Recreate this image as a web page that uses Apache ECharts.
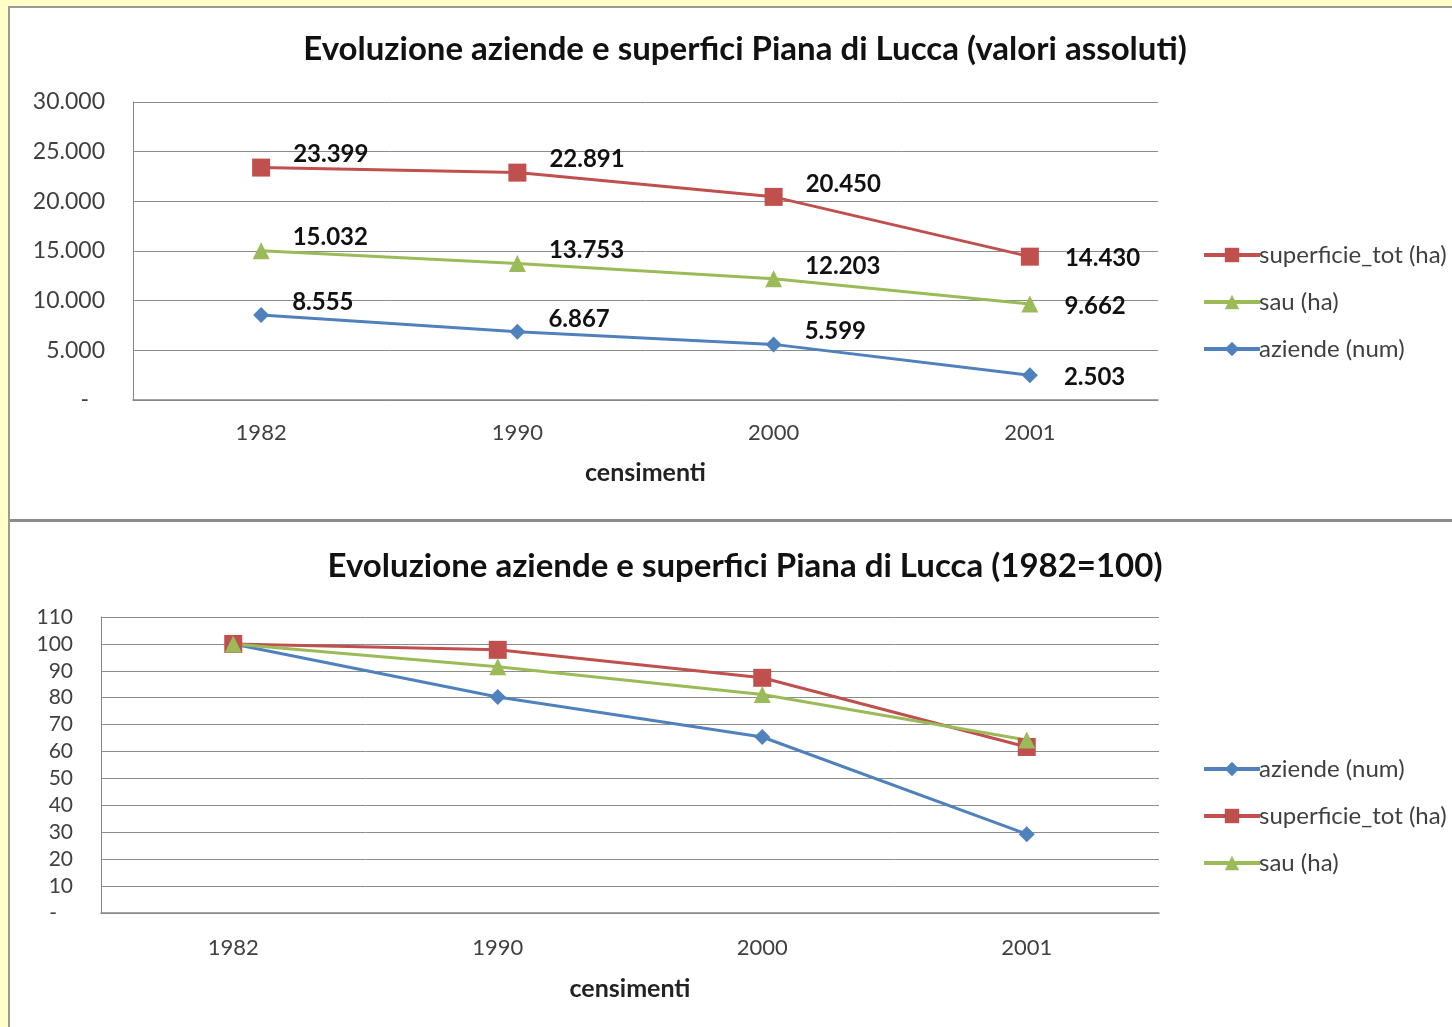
<!DOCTYPE html>
<html>
<head>
<meta charset="utf-8">
<script src="https://cdn.jsdelivr.net/npm/echarts@6/dist/echarts.min.js"></script>
<style>
html,body{margin:0;padding:0;background:#FFFFC8;}
#c{width:1452px;height:1027px;}
</style>
</head>
<body>
<div id="c"></div>
<script>
var categories = ['1982', '1990', '2000', '2001'];
var superficieAbs = [23399, 22891, 20450, 14430];
var sauAbs = [15032, 13753, 12203, 9662];
var aziendeAbs = [8555, 6867, 5599, 2503];
var aziendeIdx = [100, 80.3, 65.4, 29.3];
var superficieIdx = [100, 97.8, 87.4, 61.7];
var sauIdx = [100, 91.5, 81.2, 64.3];
var yTicksAbs = [0, 5000, 10000, 15000, 20000, 25000, 30000];
var yTicksIdx = [0, 10, 20, 30, 40, 50, 60, 70, 80, 90, 100, 110];

var RED = '#C0504D', GREEN = '#9BBB59', BLUE = '#4F81BD';
var FONT = 'Lato';
var TXT = '#404040';

function fmtIt(v) {
  var s = String(Math.round(v));
  return s.replace(/\B(?=(\d{3})+(?!\d))/g, '.');
}

function absData(arr) {
  return arr.map(function (v, i) {
    var last = i === arr.length - 1;
    return {
      value: v,
      label: {
        show: true,
        position: 'right',
        distance: last ? 26 : 23,
        offset: last ? [0, 2] : [0, -13],
        formatter: function (p) { return fmtIt(p.value); },
        fontFamily: FONT, fontWeight: 'bold', fontSize: 24, color: '#111'
      }
    };
  });
}

var chart = echarts.init(document.getElementById('c'), null, {renderer: 'canvas'});

function yLabel(size, fmt) {
  return {
    margin: 28, fontFamily: FONT, fontSize: size, color: TXT, formatter: fmt,
    rich: { d: { fontFamily: FONT, fontSize: size, color: TXT, padding: [0, 16, 0, 0] } }
  };
}

var legendText = { fontFamily: FONT, fontSize: 24, lineHeight: 24, color: TXT, padding: [0, 0, 0, -6] };

var option = {
  backgroundColor: '#FFFFC8',
  animation: false,
  graphic: [
    { type: 'rect', shape: { x: 9, y: 7, width: 1450, height: 1030 },
      style: { fill: '#ffffff', stroke: '#9a9a9a', lineWidth: 2 }, z: -10 },
    { type: 'rect', shape: { x: 10, y: 519, width: 1442, height: 3 },
      style: { fill: '#8c8c8c' }, z: -9 }
  ],
  title: [
    { text: 'Evoluzione aziende e superfici Piana di Lucca (valori assoluti)',
      left: 740, top: 28, textAlign: 'center',
      textStyle: { fontFamily: FONT, fontWeight: 'bold', fontSize: 33, color: '#111' } },
    { text: 'Evoluzione aziende e superfici Piana di Lucca (1982=100)',
      left: 740, top: 545, textAlign: 'center',
      textStyle: { fontFamily: FONT, fontWeight: 'bold', fontSize: 33, color: '#111' } }
  ],
  legend: [
    { orient: 'vertical', left: 1197, top: 238, itemWidth: 56, itemHeight: 18, itemGap: 23,
      data: ['superficie_tot (ha)', 'sau (ha)', 'aziende (num)'],
      lineStyle: { width: 4 },
      textStyle: legendText, selectedMode: false },
    { orient: 'vertical', left: 1197, top: 752, itemWidth: 56, itemHeight: 18, itemGap: 23,
      data: ['aziende (num) ', 'superficie_tot (ha) ', 'sau (ha) '],
      formatter: function (n) { return n.trim(); },
      lineStyle: { width: 4 },
      textStyle: legendText, selectedMode: false }
  ],
  grid: [
    { left: 133, top: 102, width: 1025, height: 298 },
    { left: 101, top: 617, width: 1058, height: 296 }
  ],
  xAxis: [
    { type: 'category', gridIndex: 0, data: categories, boundaryGap: true,
      name: 'censimenti', nameLocation: 'middle', nameGap: 60,
      nameTextStyle: { fontFamily: FONT, fontWeight: 'bold', fontSize: 25, color: '#222' },
      axisLine: { lineStyle: { color: '#868686', width: 1.5 } },
      axisTick: { show: false },
      axisLabel: { fontFamily: FONT, fontSize: 22, color: TXT, margin: 22 } },
    { type: 'category', gridIndex: 1, data: categories, boundaryGap: true,
      name: 'censimenti', nameLocation: 'middle', nameGap: 63,
      nameTextStyle: { fontFamily: FONT, fontWeight: 'bold', fontSize: 25, color: '#222' },
      axisLine: { lineStyle: { color: '#868686', width: 1.5 } },
      axisTick: { show: false },
      axisLabel: { fontFamily: FONT, fontSize: 22, color: TXT, margin: 24 } }
  ],
  yAxis: [
    { type: 'value', gridIndex: 0, min: yTicksAbs[0], max: yTicksAbs[yTicksAbs.length - 1], interval: 5000,
      axisLine: { show: true, lineStyle: { color: '#868686' } },
      axisTick: { show: false },
      splitLine: { lineStyle: { color: '#8c8c8c', width: 1 } },
      axisLabel: yLabel(23, function (v) { return v === 0 ? '{d|-}' : fmtIt(v); }) },
    { type: 'value', gridIndex: 1, min: yTicksIdx[0], max: yTicksIdx[yTicksIdx.length - 1], interval: 10,
      axisLine: { show: true, lineStyle: { color: '#868686' } },
      axisTick: { show: false },
      splitLine: { lineStyle: { color: '#8c8c8c', width: 1 } },
      axisLabel: yLabel(21, function (v) { return v === 0 ? '{d|-}' : String(v); }) }
  ],
  series: [
    { name: 'superficie_tot (ha)', type: 'line', xAxisIndex: 0, yAxisIndex: 0,
      data: absData(superficieAbs), symbol: 'rect', symbolSize: 18,
      itemStyle: { color: RED }, lineStyle: { color: RED, width: 3 } },
    { name: 'sau (ha)', type: 'line', xAxisIndex: 0, yAxisIndex: 0,
      data: absData(sauAbs), symbol: 'triangle', symbolSize: 17,
      itemStyle: { color: GREEN }, lineStyle: { color: GREEN, width: 3 } },
    { name: 'aziende (num)', type: 'line', xAxisIndex: 0, yAxisIndex: 0,
      data: absData(aziendeAbs), symbol: 'diamond', symbolSize: 16,
      itemStyle: { color: BLUE }, lineStyle: { color: BLUE, width: 3 } },
    { name: 'aziende (num) ', type: 'line', xAxisIndex: 1, yAxisIndex: 1,
      data: aziendeIdx, symbol: 'diamond', symbolSize: 16,
      itemStyle: { color: BLUE }, lineStyle: { color: BLUE, width: 3 } },
    { name: 'superficie_tot (ha) ', type: 'line', xAxisIndex: 1, yAxisIndex: 1,
      data: superficieIdx, symbol: 'rect', symbolSize: 18,
      itemStyle: { color: RED }, lineStyle: { color: RED, width: 3 } },
    { name: 'sau (ha) ', type: 'line', xAxisIndex: 1, yAxisIndex: 1,
      data: sauIdx, symbol: 'triangle', symbolSize: 17,
      itemStyle: { color: GREEN }, lineStyle: { color: GREEN, width: 3 } }
  ]
};
chart.setOption(option);
</script>
</body>
</html>
